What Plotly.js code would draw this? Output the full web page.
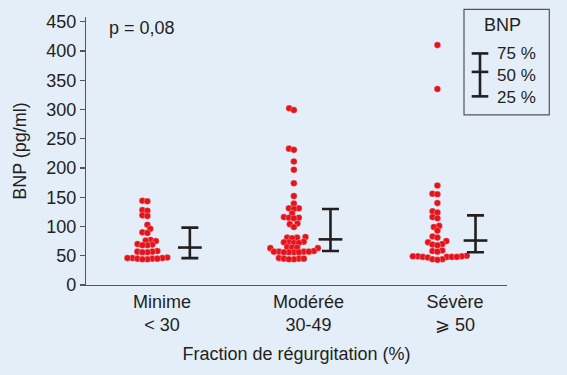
<!DOCTYPE html>
<html>
<head>
<meta charset="utf-8">
<script src="https://cdn.plot.ly/plotly-3.0.1.min.js"></script>
<style>html,body{margin:0;padding:0;background:#e4eef9;}#chart{width:567px;height:375px;}</style>
</head>
<body>
<div id="chart"></div>
<script>
// ---- data ----
const groupNames = ['Minime', 'Modérée', 'Sévère'];
const tickLabels = ['Minime<br>&lt; 30', 'Modérée<br>30-49', 'Sévère<br>⩾ 50'];
const bnpMinime = [144,143,128,127,119,118,103,96,90,89,77,76,75,70,69,68,68,58,57,57,56,56,47,46,46,46,45,45,45,44,44];
const bnpModeree = [302,299,233,231,211,197,174,152,139,131,131,130,122,116,115,115,114,105,104,99,
  82,81,81,80,74,73,73,72,72,65,64,64,63,63,58,57,57,57,57,56,56,56,56,46,45,45,45,44,44];
const bnpSevere = [410,335,170,156,155,140,126,124,116,114,101,99,93,83,81,75,73,70,69,68,
  59,58,57,50,49,49,49,48,48,48,48,47,44,44,43];
const q1 = [46, 58, 56];
const median = [64, 78, 76];
const q3 = [98, 130, 119];
const yTicks = [0,50,100,150,200,250,300,350,400,450];
const legendTitle = 'BNP';
const legendLabels = ['75 %', '50 %', '25 %'];
const pValue = 'p = 0,08';

// ---- layout geometry ----
const W = 567, H = 375;
const M = {l: 86, r: 60, t: 17, b: 89.5};
const xRange = [0.481, 3.355];
const yRange = [0, 458];
const plotW = W - M.l - M.r, plotH = H - M.t - M.b;
const pxPerX = plotW / (xRange[1] - xRange[0]);
const pxPerY = plotH / (yRange[1] - yRange[0]);
const dotShift = [-0.1, -0.1, -0.12];
const barShift = [0.19, 0.15, 0.14];
const RED = '#e3141c', INK = '#231f20', AX = '#555555';

// beeswarm offsets (pixel space), computed from values
function swarm(values, d) {
  const pts = values.map((v, i) => ({v, y: v * pxPerY, i})).sort((a, b) => a.v - b.v);
  const placed = [];
  const off = new Array(values.length).fill(0);
  for (const p of pts) {
    const iv = [];
    for (const q of placed) {
      const dy = Math.abs(q.y - p.y);
      if (dy < d) { const w = Math.sqrt(d * d - dy * dy); iv.push([q.x - w, q.x + w]); }
    }
    const cands = [0];
    iv.forEach(a => { cands.push(a[0], a[1]); });
    cands.sort((a, b) => Math.abs(a) - Math.abs(b) || a - b);
    let best = 0;
    for (const c of cands) {
      if (iv.every(a => c <= a[0] + 1e-6 || c >= a[1] - 1e-6)) { best = c; break; }
    }
    placed.push({x: best, y: p.y});
    off[p.i] = best;
  }
  return off;
}

const groups = [bnpMinime, bnpModeree, bnpSevere];
const traces = groups.map((vals, g) => {
  const off = swarm(vals, 5.0);
  return {
    type: 'scatter', mode: 'markers', name: groupNames[g],
    x: vals.map((v, i) => g + 1 + dotShift[g] + off[i] / pxPerX),
    y: vals,
    marker: {color: RED, size: 6.6, line: {color: 'rgba(255,255,255,0.7)', width: 0.4}},
    hoverinfo: 'y', cliponaxis: false
  };
});
traces.push({
  type: 'scatter', mode: 'markers', name: 'BNP',
  x: [1, 2, 3].map((c, g) => c + barShift[g]),
  y: median,
  marker: {symbol: 'line-ew', size: 17, line: {color: INK, width: 2.6}, color: INK},
  error_y: {type: 'data', symmetric: false,
    array: q3.map((v, i) => v - median[i]),
    arrayminus: median.map((v, i) => v - q1[i]),
    color: INK, thickness: 2.6, width: 8.5},
  cliponaxis: false
});

// legend box helpers (pixel -> paper)
const px = p => (p - M.l) / plotW;
const py = p => (H - M.b - p) / plotH;
const lx = 480, lcap = 8.3;
const shapes = [
  {type: 'rect', xref: 'paper', yref: 'paper', x0: px(464), x1: px(549.3), y0: py(115), y1: py(9.3),
   line: {color: AX, width: 1.2}, fillcolor: 'rgba(0,0,0,0)'},
  {type: 'line', xref: 'paper', yref: 'paper', x0: px(lx), x1: px(lx), y0: py(53.5), y1: py(96.5), line: {color: INK, width: 2.6}},
  {type: 'line', xref: 'paper', yref: 'paper', x0: px(lx - lcap), x1: px(lx + lcap), y0: py(53.5), y1: py(53.5), line: {color: INK, width: 2.6}},
  {type: 'line', xref: 'paper', yref: 'paper', x0: px(lx - lcap), x1: px(lx + lcap), y0: py(72), y1: py(72), line: {color: INK, width: 2.6}},
  {type: 'line', xref: 'paper', yref: 'paper', x0: px(lx - lcap), x1: px(lx + lcap), y0: py(96.5), y1: py(96.5), line: {color: INK, width: 2.6}}
];
const F = {family: 'Liberation Sans, Arial, sans-serif', size: 18, color: INK};
const ann = (text, x, y, xa, size) => ({text, xref: 'paper', yref: 'paper', x: px(x), y: py(y),
  xanchor: xa, yanchor: 'middle', showarrow: false, align: 'left',
  font: Object.assign({}, F, size ? {size} : {})});
const annotations = [
  ann(legendTitle, 502, 25, 'center'),
  ann(legendLabels.join('<br>'), 495, 75.5, 'left', 17),
  ann(pValue, 107, 28, 'left')
];

const layout = {
  width: W, height: H, margin: M,
  paper_bgcolor: '#e4eef9', plot_bgcolor: '#e4eef9',
  showlegend: false, font: F,
  xaxis: {range: xRange, tickvals: [1, 2, 3], ticktext: tickLabels, ticks: '',
    showline: true, linecolor: AX, linewidth: 1.2, showgrid: false, zeroline: false,
    title: {text: 'Fraction de régurgitation (%)', font: F, standoff: 13}, automargin: false, fixedrange: true},
  yaxis: {range: yRange, tickvals: yTicks, ticks: 'outside', ticklen: 5, tickcolor: AX, tickwidth: 1.2,
    showline: true, linecolor: AX, linewidth: 1.2, showgrid: false, zeroline: false,
    title: {text: 'BNP (pg/ml)', font: F, standoff: 14}, automargin: false, fixedrange: true},
  shapes, annotations
};
Plotly.newPlot('chart', traces, layout, {displayModeBar: false, staticPlot: true});
</script>
</body>
</html>
